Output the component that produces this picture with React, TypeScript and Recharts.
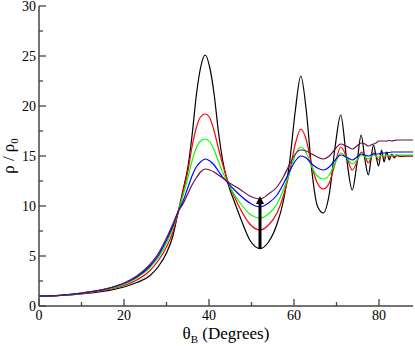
import React from "react";
import { LineChart, Line, XAxis, YAxis, ReferenceLine, ReferenceDot } from "recharts";

// Bragg angle samples (degrees)
const theta = [
  0, 5, 10, 15, 20, 23, 26, 28, 30, 31.5,
  32.7, 34, 35, 36, 37, 38, 39.1, 40.2, 41.2, 42.2,
  43.2, 44.5, 46, 47.5, 49.6, 52, 54, 56, 57.5, 59,
  60.3, 61.6, 62.9, 64.2, 65.5, 66.9, 68.3, 69.7, 71, 72.3,
  73.7, 74.8, 75.8, 76.7, 77.5, 78.1, 78.7, 79.3, 79.9, 80.6,
  81.2, 81.8, 82.4, 83, 83.6, 84.2, 85, 86.5, 88,
];

// rho / rho0 for each curve
const blackVals = [
  1.0, 1.05, 1.2, 1.45, 1.9, 2.35, 3.0, 3.9, 5.3, 7.0,
  9.3, 11.8, 13.8, 17.0, 21.0, 23.8, 25.1, 23.8, 21.2, 17.5,
  14.6, 12.2, 10.4, 8.7, 6.6, 5.74, 6.4, 8.2, 10.5, 14.5,
  19.5, 23.0, 19.5, 13.5, 10.0, 9.3, 11.2, 16.0, 19.1, 15.0,
  11.6, 14.2, 17.1, 14.6, 13.1, 14.6, 16.1, 15.0, 14.0, 15.6,
  14.4, 15.4, 14.6, 15.2, 14.8, 15.1, 14.95, 15.0, 15.0,
];
const redVals = [
  1.0, 1.06, 1.25, 1.55, 2.05, 2.6, 3.5, 4.5, 5.9, 7.4,
  9.3, 11.6, 13.4, 15.9, 17.8, 18.9, 19.2, 18.8, 17.5, 15.8,
  14.2, 12.4, 10.9, 9.6, 8.2, 7.6, 8.1, 9.3, 11.0, 13.5,
  16.2, 17.7, 16.6, 14.0, 12.3, 11.7, 12.3, 14.3, 15.9, 15.0,
  13.6, 14.4, 15.4, 15.0, 14.3, 14.8, 15.3, 15.0, 14.6, 15.1,
  14.8, 15.1, 14.9, 15.05, 14.95, 15.0, 15.0, 15.0, 15.0,
];
const greenVals = [
  1.0, 1.06, 1.27, 1.6, 2.15, 2.8, 3.8, 4.8, 6.3, 7.8,
  9.4, 11.2, 12.8, 14.5, 15.8, 16.5, 16.7, 16.4, 15.6, 14.5,
  13.4, 12.3, 11.1, 10.2, 9.2, 8.8, 9.2, 10.2, 11.6, 13.4,
  15.1, 15.9, 15.3, 13.9, 13.0, 12.7, 13.1, 14.3, 15.3, 14.9,
  14.2, 14.6, 15.1, 14.9, 14.7, 14.9, 15.1, 15.0, 14.9, 15.05,
  15.0, 15.05, 15.05, 15.1, 15.1, 15.1, 15.1, 15.1, 15.1,
];
const blueVals = [
  1.0, 1.07, 1.29, 1.63, 2.25, 2.9, 3.95, 5.0, 6.6, 8.0,
  9.4, 10.6, 11.8, 13.0, 13.9, 14.4, 14.7, 14.5, 14.1, 13.5,
  12.9, 12.3, 11.6, 11.0, 10.3, 9.9, 10.3, 11.1, 12.2, 13.5,
  14.5, 15.0, 14.8, 14.2, 13.8, 13.6, 13.9, 14.6, 15.1, 14.9,
  14.6, 14.9, 15.2, 15.1, 15.0, 15.1, 15.2, 15.2, 15.2, 15.3,
  15.3, 15.35, 15.35, 15.4, 15.4, 15.4, 15.4, 15.4, 15.4,
];
const purpleVals = [
  1.0, 1.07, 1.3, 1.65, 2.3, 3.0, 4.1, 5.2, 6.8, 8.2,
  9.4, 10.3, 11.2, 12.1, 12.8, 13.4, 13.7, 13.6, 13.4, 13.1,
  12.8, 12.4, 12.0, 11.6, 11.0, 10.7, 11.2, 11.9, 12.9, 14.2,
  15.2, 15.6, 15.5, 15.2, 14.9, 14.7, 15.0, 15.7, 16.2, 16.0,
  15.7, 16.0, 16.3, 16.2, 16.0, 16.1, 16.2, 16.3, 16.5, 16.5,
  16.5, 16.5, 16.55, 16.5, 16.55, 16.6, 16.6, 16.6, 16.6,
];

const xTicks = [0, 10, 20, 30, 40, 50, 60, 70, 80];
const xLabelled = [0, 20, 40, 60, 80];
const yTicks = [0, 2.5, 5, 7.5, 10, 12.5, 15, 17.5, 20, 22.5, 25, 27.5, 30];
const yLabelled = [0, 5, 10, 15, 20, 25, 30];

// arrow marking the minimum at 52 deg
const arrowTheta = 52;
const arrowFrom = 5.74;
const arrowTo = 11.0;

const data = theta.map((t, i) => ({
  theta: t,
  black: blackVals[i],
  red: redVals[i],
  green: greenVals[i],
  blue: blueVals[i],
  purple: purpleVals[i],
}));

const AXIS = "#444";
const FONT = "Liberation Serif, DejaVu Serif, serif";

const BottomTick = (props: any) => {
  const { x, y, payload } = props;
  const major = xLabelled.includes(payload.value);
  return (
    <g>
      <line x1={x} y1={y} x2={x} y2={y - (major ? 7 : 4)} stroke={AXIS} strokeWidth={1.3} />
      {major && (
        <text x={x} y={y + 14} textAnchor="middle" fontSize={14} fontFamily={FONT} fill="#000">
          {payload.value}
        </text>
      )}
    </g>
  );
};

const TopTick = (props: any) => {
  const { x, y, payload } = props;
  const major = xLabelled.includes(payload.value);
  return <line x1={x} y1={y} x2={x} y2={y + (major ? 7 : 4)} stroke={AXIS} strokeWidth={1.3} />;
};

const LeftTick = (props: any) => {
  const { x, y, payload } = props;
  const major = yLabelled.includes(payload.value);
  return (
    <g>
      <line x1={x} y1={y} x2={x + (major ? 7 : 4)} y2={y} stroke={AXIS} strokeWidth={1.3} />
      {major && (
        <text x={x - 3} y={y + 5} textAnchor="end" fontSize={14} fontFamily={FONT} fill="#000">
          {payload.value}
        </text>
      )}
    </g>
  );
};

const RightTick = (props: any) => {
  const { x, y, payload } = props;
  const major = yLabelled.includes(payload.value);
  return <line x1={x} y1={y} x2={x - (major ? 7 : 4)} y2={y} stroke={AXIS} strokeWidth={1.3} />;
};

const XTitle = (props: any) => {
  const { viewBox } = props;
  const cx = viewBox.x + viewBox.width / 2;
  return (
    <text x={cx} y={339} textAnchor="middle" fontSize={17} fontFamily={FONT} fill="#000">
      θ<tspan fontSize={11} dy={4}>B</tspan>
      <tspan dy={-4}> (Degrees)</tspan>
    </text>
  );
};

const YTitle = (props: any) => {
  const { viewBox } = props;
  const cy = viewBox.y + viewBox.height / 2;
  return (
    <text
      x={14}
      y={cy}
      textAnchor="middle"
      fontSize={17}
      fontFamily={FONT}
      fill="#000"
      transform={`rotate(-90, 14, ${cy})`}
    >
      ρ / ρ<tspan fontSize={11} dy={4}>0</tspan>
    </text>
  );
};

const ArrowHead = (props: any) => {
  const { cx, cy } = props;
  return <polygon points={`${cx},${cy} ${cx - 4},${cy + 8} ${cx + 4},${cy + 8}`} fill="#000" />;
};

export default function App() {
  return (
    <div style={{ position: "absolute", left: 0, top: 0, fontFamily: FONT }}>
      <LineChart
        width={415}
        height={346}
        data={data}
        margin={{ top: 6, right: 2, bottom: 0, left: 0 }}
      >
        <XAxis
          dataKey="theta"
          type="number"
          domain={[0, 88]}
          ticks={xTicks}
          interval={0}
          height={40}
          tickSize={0}
          tickMargin={0}
          tickLine={false}
          axisLine={{ stroke: AXIS, strokeWidth: 1.5 }}
          tick={<BottomTick />}
          label={<XTitle />}
        />
        <XAxis
          xAxisId="top"
          orientation="top"
          dataKey="theta"
          type="number"
          domain={[0, 88]}
          ticks={xTicks}
          interval={0}
          height={0}
          tickSize={0}
          tickMargin={0}
          tickLine={false}
          axisLine={{ stroke: AXIS, strokeWidth: 1.5 }}
          tick={<TopTick />}
        />
        <YAxis
          type="number"
          domain={[0, 30]}
          ticks={yTicks}
          interval={0}
          width={39}
          tickSize={0}
          tickMargin={0}
          tickLine={false}
          axisLine={{ stroke: AXIS, strokeWidth: 1.5 }}
          tick={<LeftTick />}
          label={<YTitle />}
        />
        <YAxis
          yAxisId="right"
          orientation="right"
          type="number"
          domain={[0, 30]}
          ticks={yTicks}
          interval={0}
          width={0}
          tickSize={0}
          tickMargin={0}
          tickLine={false}
          axisLine={{ stroke: AXIS, strokeWidth: 1.5 }}
          tick={<RightTick />}
        />
        <Line type="monotone" dataKey="black" stroke="#000000" strokeWidth={1.2} dot={false} isAnimationActive={false} />
        <Line type="monotone" dataKey="red" stroke="#ff0000" strokeWidth={1.2} dot={false} isAnimationActive={false} />
        <Line type="monotone" dataKey="green" stroke="#00ff00" strokeWidth={1.2} dot={false} isAnimationActive={false} />
        <Line type="monotone" dataKey="blue" stroke="#0000ff" strokeWidth={1.2} dot={false} isAnimationActive={false} />
        <Line type="monotone" dataKey="purple" stroke="#6b1050" strokeWidth={1.2} dot={false} isAnimationActive={false} />
        <ReferenceLine
          segment={[
            { x: arrowTheta, y: arrowFrom },
            { x: arrowTheta, y: arrowTo - 0.6 },
          ]}
          stroke="#000"
          strokeWidth={3}
        />
        <ReferenceDot x={arrowTheta} y={arrowTo} r={4} shape={<ArrowHead />} />
      </LineChart>
    </div>
  );
}
